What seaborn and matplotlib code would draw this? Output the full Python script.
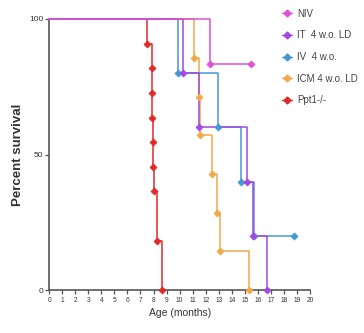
import matplotlib
matplotlib.use("Agg")
import matplotlib.pyplot as plt
import seaborn as sns
import pandas as pd

groups = ["NIV", "IT  4 w.o. LD", "IV  4 w.o.", "ICM 4 w.o. LD", "Ppt1-/-"]
colors = ["#e050d8", "#a348e0", "#4298d4", "#f2a84a", "#e02a2a"]

niv_t = [0, 12.33, 15.45]
niv_s = [100, 83.3, 83.3]
it_t = [0, 10.23, 11.5, 15.14, 15.65, 16.67]
it_s = [100, 80, 60, 40, 20, 0]
iv_t = [0, 9.9, 12.97, 14.68, 15.7, 18.77]
iv_s = [100, 80, 60, 40, 20, 20]
icm_t = [0, 11.13, 11.48, 11.55, 12.5, 12.84, 13.1, 15.35]
icm_s = [100, 85.7, 71.4, 57.1, 42.9, 28.6, 14.3, 0]
ppt_t = [0, 7.52, 7.86, 7.88, 7.92, 7.96, 7.99, 8.05, 8.3, 8.65]
ppt_s = [100, 90.9, 81.8, 72.7, 63.6, 54.5, 45.5, 36.4, 18.2, 0]

series = [(niv_t, niv_s), (it_t, it_s), (iv_t, iv_s), (icm_t, icm_s), (ppt_t, ppt_s)]

rows = []
for g, (t, s) in zip(groups, series):
    for i, (ti, si) in enumerate(zip(t, s)):
        rows.append({"group": g, "t": ti, "s": si, "idx": i})
df = pd.DataFrame(rows)

sns.set_style("white")
plt.rcParams["font.family"] = ["Liberation Sans", "DejaVu Sans"]

fig = plt.figure(figsize=(3.64, 3.33), dpi=100)
ax = fig.add_axes([0.135, 0.129, 0.717, 0.814])

palette = dict(zip(groups, colors))
for k, g in enumerate(reversed(groups)):
    sub = df[df.group == g]
    sns.lineplot(data=sub, x="t", y="s", ax=ax, color=palette[g], drawstyle="steps-post",
                 estimator=None, sort=False, lw=1.1, clip_on=False, legend=False, zorder=2 + k)
    sns.scatterplot(data=sub[sub.idx > 0], x="t", y="s", ax=ax, color=palette[g], marker="D",
                    s=13, edgecolor=palette[g], linewidth=0.5, clip_on=False, zorder=10, legend=False)

ax.set_xlim(0, 20)
ax.set_ylim(0, 100)
ax.set_xticks(range(0, 21))
ax.set_yticks([0, 50, 100])
ax.tick_params(axis="x", labelsize=4.8, length=3, width=0.9, color="#555555", pad=2, labelcolor="#333333", direction="out", bottom=True)
ax.tick_params(axis="y", labelsize=6, length=3, width=0.9, color="#555555", pad=1, labelcolor="#333333", left=True)
for sp in ["top", "right"]:
    ax.spines[sp].set_visible(False)
for sp in ["left", "bottom"]:
    ax.spines[sp].set_color("#555555")
    ax.spines[sp].set_linewidth(1.2)
ax.set_xlabel("Age (months)", fontsize=7.5, color="#333333", labelpad=3)
ax.set_ylabel("Percent survival", fontsize=9.5, fontweight="bold", color="#333333", labelpad=4)

from matplotlib.lines import Line2D
handles = [Line2D([0], [0], color=c, marker="D", markersize=3.5, lw=1.0) for c in colors]
fig.legend(handles, groups, loc="upper left", bbox_to_anchor=(0.75, 1.0), frameon=False,
           fontsize=7, labelcolor="#444444", handlelength=1.1, handletextpad=0.5,
           labelspacing=1.2)

fig.savefig("out.png", dpi=100)
